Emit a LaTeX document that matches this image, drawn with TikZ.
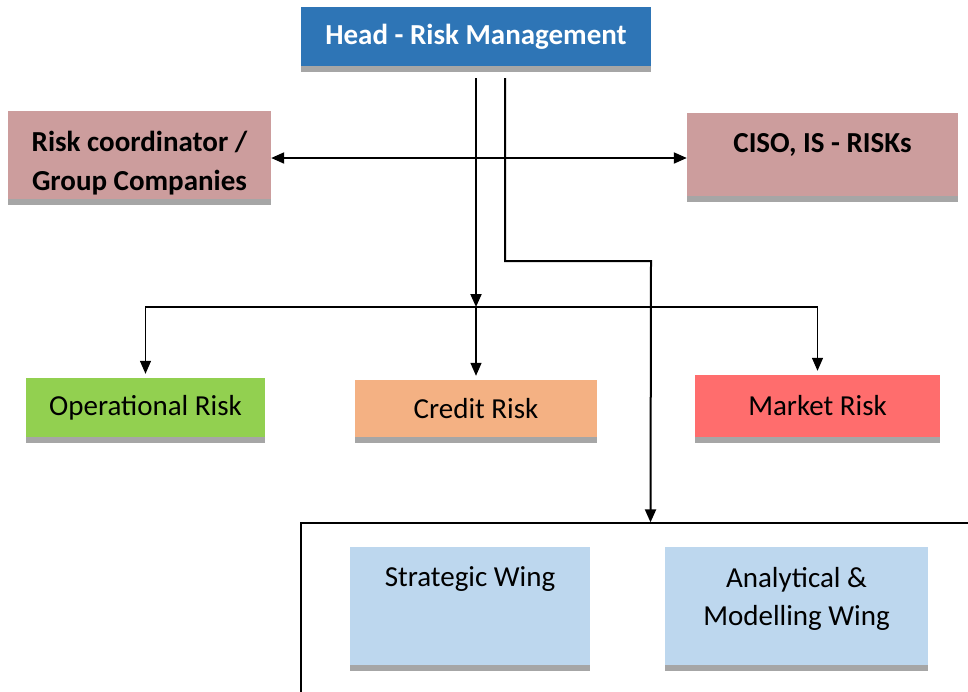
\documentclass[tikz,border=0pt]{standalone}
\usepackage{fontspec}
\setmainfont{Carlito}
\usepackage{xcolor}
\usetikzlibrary{positioning,shadows,arrows.meta}
\definecolor{headblue}{HTML}{2E75B6}
\definecolor{riskpink}{HTML}{CC9D9D}
\definecolor{opsgreen}{HTML}{92D050}
\definecolor{creditorange}{HTML}{F4B183}
\definecolor{marketred}{HTML}{FF6D6D}
\definecolor{wingblue}{HTML}{BDD7EE}

\begin{document}
\begin{tikzpicture}[x=1pt,y=-1pt,
  box/.style={inner sep=0pt,align=center,font=\fontsize{29}{38}\selectfont,
    general shadow={fill=black!35,shadow yshift=-6pt}},
  boldbox/.style={box,font=\fontsize{29}{38}\selectfont\bfseries},
  toptext/.style={anchor=north,inner sep=0pt,align=center,yshift=-20pt},
  mainline/.style={black,line width=2pt},
  branch/.style={black,line width=1.3pt},
  tip/.style={-{Triangle[length=13pt,width=11pt]}}]
\clip (0,0) rectangle (968,691);
\fill[white] (0,0) rectangle (968,691);

\node[boldbox,fill=headblue,text=white,minimum width=350pt,minimum height=59pt] (head) at (476,36.5) {Head - Risk Management};
\node[box,fill=riskpink,minimum width=263pt,minimum height=88pt,
  label={[toptext,font=\fontsize{29}{39}\selectfont\bfseries]north:{Risk coordinator /\\Group Companies}}] (coord) at (139.5,155) {};
\node[box,fill=riskpink,minimum width=271pt,minimum height=83pt,
  label={[toptext,font=\fontsize{29}{38}\selectfont\bfseries]north:{CISO, IS - RISKs}}] (ciso) at (822.5,154.5) {};

\node[box,fill=opsgreen,minimum width=239pt,minimum height=59pt] (ops) at (145.5,407.5) {Operational Risk};
\node[box,fill=creditorange,minimum width=242pt,minimum height=57pt] (credit) at (476,408.5) {Credit Risk};
\node[box,fill=marketred,minimum width=245pt,minimum height=62pt] (market) at (817.5,406) {Market Risk};

\node[draw,branch,minimum width=699pt,minimum height=197pt,inner sep=0pt] (wings) at (650.5,621.5) {};
\node[box,fill=wingblue,minimum width=240pt,minimum height=118pt,
  label={[toptext,font=\fontsize{29}{38}\selectfont]north:{Strategic Wing}}] (strategic) at (470,606) {};
\node[box,fill=wingblue,minimum width=263pt,minimum height=118pt,
  label={[toptext,font=\fontsize{29}{38}\selectfont]north:{Analytical \&\\Modelling Wing}}] (analytical) at (796.5,606) {};

\coordinate (split) at (476,307);
\coordinate (knee) at (651,261);

\draw[mainline,tip,shorten <=12pt] (head.south) -- (split);
\draw[branch,tip,shorten >=4pt] (split) -- (credit.north);
\draw[branch,tip,shorten >=4pt] (split) -| (ops.north);
\draw[branch,tip,shorten >=4pt] (split) -| (market.north);
\draw[mainline,{Triangle[length=13pt,width=11pt]}-{Triangle[length=13pt,width=11pt]}] ([yshift=-3pt]coord.east) -- ([yshift=-3.5pt]ciso.west);
\draw[mainline,tip,shorten <=12pt] ([xshift=29pt]head.south) |- (knee) -- (wings.north);
\end{tikzpicture}
\end{document}
